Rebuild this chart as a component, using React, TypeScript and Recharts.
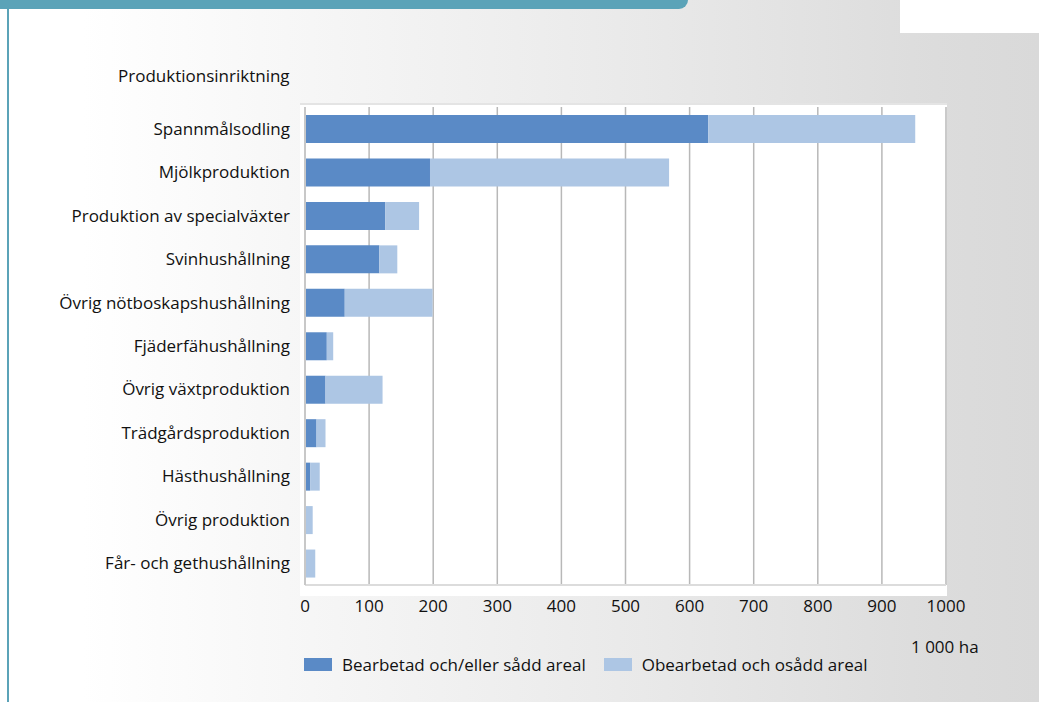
import React from "react";
import { BarChart, Bar, XAxis, YAxis, CartesianGrid, Legend } from "recharts";

const categories = [
  "Spannmålsodling",
  "Mjölkproduktion",
  "Produktion av specialväxter",
  "Svinhushållning",
  "Övrig nötboskapshushållning",
  "Fjäderfähushållning",
  "Övrig växtproduktion",
  "Trädgårdsproduktion",
  "Hästhushållning",
  "Övrig produktion",
  "Får- och gethushållning",
];
const bearbetad = [629, 195, 125, 116, 62, 34, 32, 18, 8, 0, 0];
const obearbetad = [323, 373, 53, 28, 137, 10, 89, 14, 15, 12, 16];
const xTicks = [0, 100, 200, 300, 400, 500, 600, 700, 800, 900, 1000];
const seriesNames = ["Bearbetad och/eller sådd areal", "Obearbetad och osådd areal"];
const yTitle = "Produktionsinriktning";
const unitLabel = "1 000 ha";

const data = categories.map((c, i) => ({ name: c, a: bearbetad[i], b: obearbetad[i] }));

const FONT = "'Open Sans', sans-serif";
const FS = 17;
const DARK = "#5a8ac6";
const LIGHT = "#adc6e4";

const LegendContent = (props: any) => {
  const payload = props.payload || [];
  return (
    <div style={{ display: "flex", fontFamily: FONT, fontSize: FS, color: "#111", whiteSpace: "nowrap" }}>
      {payload.map((p: any, i: number) => (
        <div key={i} style={{ display: "flex", alignItems: "center", marginRight: i === 0 ? 18 : 0 }}>
          <div style={{ width: 28, height: 13, background: p.color, marginRight: 10 }} />
          <span>{p.value}</span>
        </div>
      ))}
    </div>
  );
};

export default function App() {
  return (
    <div style={{ position: "absolute", left: 0, top: 0, width: 1039, height: 702, overflow: "hidden",
      background: "linear-gradient(to right, #ffffff 8%, #f6f6f6 30%, #e9e9e9 62%, #dcdcdc 90%, #d9d9d9 100%)" }}>
      <div style={{ position: "absolute", left: 0, top: 0, width: 688, height: 9, background: "#5ba3b8", borderBottomRightRadius: 12 }} />
      <div style={{ position: "absolute", left: 7, top: 0, width: 2, height: 702, background: "#5ba3b8" }} />
      <div style={{ position: "absolute", left: 900, top: 0, width: 139, height: 33, background: "#ffffff" }} />
      <div style={{ position: "absolute", left: 300, top: 103, width: 647, height: 493, background: "#ffffff", borderTop: "2px solid #e4e4e4", boxSizing: "border-box" }} />
      <div style={{ position: "absolute", left: 118, top: 64, fontFamily: FONT, fontSize: FS, color: "#111" }}>{yTitle}</div>
      <div style={{ position: "absolute", left: 911, top: 635, fontFamily: FONT, fontSize: FS, color: "#111" }}>{unitLabel}</div>
      <div style={{ position: "absolute", left: 0, top: 0 }}>
        <BarChart width={1039} height={702} data={data} layout="vertical"
          margin={{ top: 107, right: 93, bottom: 64, left: 0 }}>
          <CartesianGrid horizontal={false} stroke="#b8b8b8" strokeWidth={1.5} />
          <XAxis type="number" domain={[0, 1000]} ticks={xTicks} height={30} tickLine={false}
            axisLine={{ stroke: "#dcdcdc", strokeWidth: 2 }} tickSize={0} tickMargin={15}
            tick={{ fontFamily: FONT, fontSize: FS, fill: "#111" }} interval={0} />
          <YAxis type="category" dataKey="name" width={305} tickLine={false}
            axisLine={{ stroke: "#c8c8c8", strokeWidth: 2 }} tickSize={0} tickMargin={15}
            tick={{ fontFamily: FONT, fontSize: FS, fill: "#111" }} interval={0} />
          <Legend content={<LegendContent />}
            wrapperStyle={{ position: "absolute", left: 304, top: 653, width: "auto", bottom: "auto" }} />
          <Bar dataKey="a" name={seriesNames[0]} stackId="s" fill={DARK} barSize={28} isAnimationActive={false} />
          <Bar dataKey="b" name={seriesNames[1]} stackId="s" fill={LIGHT} barSize={28} isAnimationActive={false} />
        </BarChart>
      </div>
    </div>
  );
}
